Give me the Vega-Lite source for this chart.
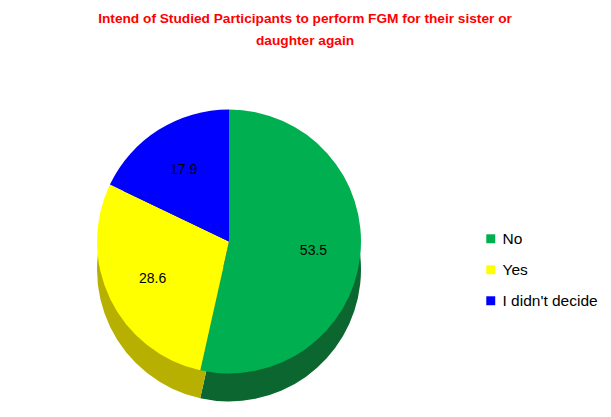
{
  "$schema": "https://vega.github.io/schema/vega-lite/v6.json",
  "width": 458,
  "height": 345,
  "padding": {"left": 0, "top": 12, "right": 0, "bottom": 0},
  "title": {
    "text": ["Intend of Studied Participants  to perform FGM for their sister or", "daughter again"],
    "color": "#FF0000",
    "font": "Liberation Sans",
    "fontSize": 13.7,
    "fontWeight": "bold",
    "lineHeight": 22,
    "anchor": "middle",
    "frame": "group",
    "dx": 76,
    "offset": 21
  },
  "data": {
    "values": [
      {"Response": "No", "Percent": 53.5, "order": 1},
      {"Response": "Yes", "Percent": 28.6, "order": 2},
      {"Response": "I didn't decide", "Percent": 17.9, "order": 3}
    ]
  },
  "encoding": {
    "theta": {"field": "Percent", "type": "quantitative", "stack": true},
    "order": {"field": "order", "type": "quantitative"}
  },
  "layer": [
    {
      "mark": {"type": "arc", "outerRadius": 132, "yOffset": 28},
      "encoding": {
        "color": {
          "field": "Response",
          "type": "nominal",
          "scale": {"domain": ["No", "Yes", "I didn't decide"], "range": ["#0B6630", "#B8B000", "#00008B"]},
          "legend": null
        }
      }
    },
    {
      "mark": {"type": "arc", "outerRadius": 132},
      "encoding": {
        "fill": {
          "field": "Response",
          "type": "nominal",
          "scale": {"domain": ["No", "Yes", "I didn't decide"], "range": ["#00B050", "#FFFF00", "#0000FF"]},
          "legend": {
            "title": null,
            "orient": "none",
            "legendX": 483,
            "legendY": 162,
            "symbolType": "square",
            "symbolSize": 80,
            "symbolStrokeWidth": 0,
            "labelFont": "Liberation Sans",
            "labelFontSize": 15.5,
            "labelColor": "#000000",
            "rowPadding": 14,
            "labelOffset": 4
          }
        }
      }
    },
    {
      "mark": {"type": "text", "radius": 85, "font": "Liberation Sans", "fontSize": 14, "color": "#000000"},
      "encoding": {
        "text": {"field": "Percent", "type": "quantitative", "format": ".1f"}
      }
    }
  ],
  "resolve": {"scale": {"color": "independent", "fill": "independent"}},
  "config": {
    "view": {"stroke": null}
  }
}
